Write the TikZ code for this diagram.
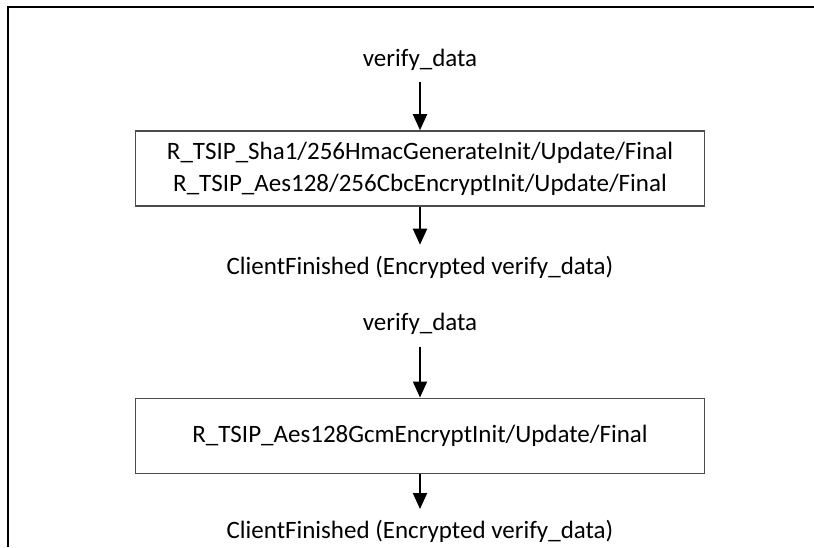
\documentclass[tikz,border=0pt]{standalone}
\usepackage{fontspec}
\setmainfont{Carlito}
\usetikzlibrary{positioning,arrows.meta}

\begin{document}
\begin{tikzpicture}[
		x=1pt, y=1pt,
		font=\fontsize{25}{32}\selectfont,
		lbl/.style={inner sep=0pt, minimum height=44pt},
		fnbox/.style={draw=black!70, line width=1.5pt, minimum width=569pt, minimum height=75pt, inner sep=0pt, align=center},
		flow/.style={line width=2pt, -{Triangle[width=14pt,length=16pt]}},
	]
		\useasboundingbox (0,0) rectangle (814,-547);
		\draw[line width=2.5pt] (8,-547) |- (814,-7);

		\node (vd1) [lbl] at (420,-60) {verify\_data};
		\node (hmac) [fnbox, below=48pt of vd1] {R\_TSIP\_Sha1/256HmacGenerateInit/Update/Final\\R\_TSIP\_Aes128/256CbcEncryptInit/Update/Final};
		\node (cf1) [lbl, below=38pt of hmac] {ClientFinished (Encrypted verify\_data)};

		\node (vd2) [lbl, below=13pt of cf1] {verify\_data};
		\node (gcm) [fnbox, below=51pt of vd2] {R\_TSIP\_Aes128GcmEncryptInit/Update/Final};
		\node (cf2) [lbl, below=35pt of gcm] {ClientFinished (Encrypted verify\_data)};

		\draw[flow] (vd1) -- (hmac);
		\draw[flow] (hmac) -- (cf1);
		\draw[flow] (vd2) -- (gcm);
		\draw[flow] (gcm) -- (cf2);
	\end{tikzpicture}
\end{document}
